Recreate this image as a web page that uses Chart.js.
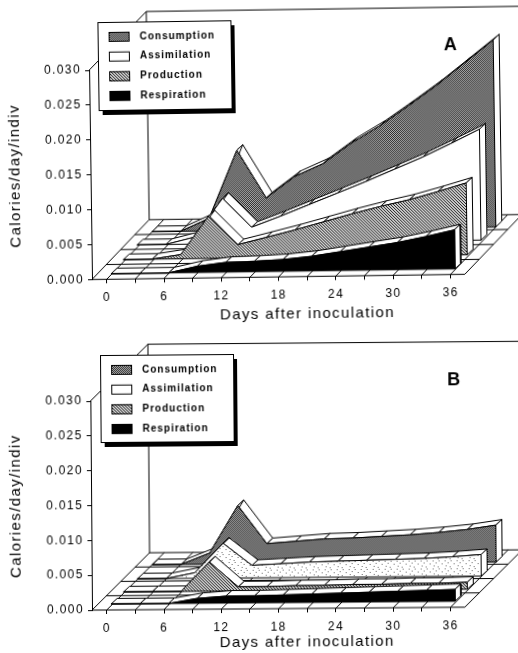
<!DOCTYPE html>
<html>
<head>
<meta charset="utf-8">
<script src="https://cdn.jsdelivr.net/npm/chart.js@4"></script>
<style>
  html, body { margin: 0; background: #fff; }
  #page { position: relative; width: 518px; height: 653px; overflow: hidden; }
  canvas { position: absolute; left: 0; }
  #panelA { top: 0; transform: rotate(-0.8deg); transform-origin: 107px 279px; }
  #panelB { top: 330px; transform: rotate(-0.45deg); transform-origin: 107px 280px; }
</style>
</head>
<body>
<div id="page">
  <canvas id="panelA" width="530" height="330"></canvas>
  <canvas id="panelB" width="530" height="323"></canvas>
</div>
<script>
const days = [0, 3, 6, 9, 12, 15, 18, 21, 24, 27, 30, 33, 36];
const xTicks = [0, 3, 6, 9, 12, 15, 18, 21, 24, 27, 30, 33, 36];
const seriesNames = ["Consumption", "Assimilation", "Production", "Respiration"];

const consumptionA = [0, 0, 0.0018, 0.0115, 0.0046, 0.0076, 0.0094, 0.0123, 0.0147, 0.0175, 0.0204, 0.0236, 0.0268];
const assimilationA = [0, 0, 0.0010, 0.0065, 0.0023, 0.0038, 0.0054, 0.0070, 0.0086, 0.0103, 0.0120, 0.0139, 0.0159];
const productionA = [0, 0, 0.0006, 0.0061, 0.0019, 0.0029, 0.0039, 0.0050, 0.0061, 0.0071, 0.0080, 0.0091, 0.0103];
const respirationA = [0, 0, 0, 0.0009, 0.0014, 0.0015, 0.0017, 0.0021, 0.0027, 0.0033, 0.0039, 0.0047, 0.0056];

const consumptionB = [0, 0, 0.0016, 0.0084, 0.0029, 0.0032, 0.0035, 0.0036, 0.0038, 0.0040, 0.0043, 0.0047, 0.0053];
const assimilationB = [0, 0, 0.0008, 0.0050, 0.0018, 0.0020, 0.0022, 0.0023, 0.0024, 0.0025, 0.0026, 0.0028, 0.0031];
const productionB = [0, 0, 0, 0.0042, 0.0006, 0.0006, 0.0007, 0.0007, 0.0008, 0.0008, 0.0009, 0.0009, 0.0010];
const respirationB = [0, 0, 0, 0.0007, 0.0010, 0.0010, 0.0011, 0.0012, 0.0013, 0.0014, 0.0015, 0.0016, 0.0017];

// px -> data units for the fake 3D offsets
const dayPerPx = 1 / 9.55;
const valPerPx = 0.03 / 209.3;
const ink = "#000";

function makePattern(rows, dark, light) {
    const c = document.createElement("canvas");
    c.width = rows[0].length;
    c.height = rows.length;
    const g = c.getContext("2d");
    g.fillStyle = light;
    g.fillRect(0, 0, c.width, c.height);
    g.fillStyle = dark;
    rows.forEach((row, y) => {
        for (let x = 0; x < row.length; x++) {
            if (row[x] === "#") g.fillRect(x, y, 1, 1);
        }
    });
    return g.createPattern(c, "repeat");
}

const fillConsumption = makePattern(["#.", ".#"], "#2a2a2a", "#b4b4b4");
const fillProduction = makePattern(["#..", ".#.", "..#"], "#222", "#d0d0d0");
const fillStipple = makePattern([
    "............", ".#.....#....", "............", "....#.......",
    "..........#.", "............", "..#.........", "......#....."
], "#666", "#fff");

function poly(points, fill) {
    return {
        data: points.concat([points[0]]),
        fill: "shape",
        backgroundColor: fill,
        borderColor: ink,
        borderWidth: 1,
        pointRadius: 0,
        tension: 0,
        clip: false
    };
}

function stroke(points, width) {
    return {
        data: points,
        fill: false,
        borderColor: ink,
        borderWidth: width || 1,
        pointRadius: 0,
        tension: 0,
        clip: false
    };
}

// one series: front face, end face, and the top strip cut into one piece per interval
function seriesSets(values, dx, dy, frontFill) {
    const sx = dx * dayPerPx, sy = dy * valPerPx;
    const rx = 6 * dayPerPx, ry = 5.5 * valPerPx;
    const top = days.map((d, i) => ({ x: d + sx, y: values[i] + sy }));
    const last = top[top.length - 1];
    const base = { x: last.x, y: sy };
    const sets = [];
    sets.push(poly(top.concat([base, { x: top[0].x, y: sy }]), frontFill));
    sets.push(poly([last, { x: last.x + rx, y: last.y + ry }, { x: base.x + rx, y: base.y + ry }, base], "#fff"));
    for (let i = 0; i < top.length - 1; i++) {
        const a = top[i], b = top[i + 1];
        sets.push(poly([a, b, { x: b.x + rx, y: b.y + ry }, { x: a.x + rx, y: a.y + ry }], "#fff"));
    }
    return sets;
}

function floorSets(cfg) {
    const sets = [];
    const backX = cfg.floorX * dayPerPx, backY = cfg.floorY * valPerPx;
    const left = cfg.xMin, right = 37.5;
    for (let k = 0; k <= 4; k++) {
        const f = k / 4;
        sets.push(stroke([{ x: left + backX * f, y: backY * f }, { x: right + backX * f, y: backY * f }]));
    }
    [left].concat(xTicks, [right]).forEach(d => {
        sets.push(stroke([{ x: d, y: 0 }, { x: d + backX, y: backY }]));
    });
    // back wall
    const wallX = left + backX;
    sets.push(stroke([{ x: left, y: 0.03 }, { x: wallX, y: cfg.wallTop }, { x: cfg.xMax + 1, y: cfg.wallTop }]));
    sets.push(stroke([{ x: wallX, y: backY }, { x: wallX, y: cfg.wallTop }]));
    return sets;
}

const panelDecor = {
    id: "panelDecor",
    beforeDraw(chart) {
        chart.ctx.letterSpacing = "1.4px";
    },
    beforeDatasetsDraw(chart) {
        // the filler clips to chartArea, the 3D shapes go past it
        chart.$realArea = chart.chartArea;
        chart.chartArea = { left: 0, top: 0, right: chart.width, bottom: chart.height,
                            width: chart.width, height: chart.height };
    },
    afterDatasetsDraw(chart) {
        chart.chartArea = chart.$realArea;
        const cfg = chart.options.plugins.panelDecor;
        const ctx = chart.ctx;
        const box = cfg.box;
        ctx.save();
        ctx.fillStyle = "#000";
        ctx.fillRect(box.x + 4, box.y + 5, box.w, box.h);
        ctx.fillStyle = "#fff";
        ctx.strokeStyle = ink;
        ctx.lineWidth = 1;
        ctx.fillRect(box.x, box.y, box.w, box.h);
        ctx.strokeRect(box.x + 0.5, box.y + 0.5, box.w, box.h);
        const fills = [fillConsumption, "#fff", fillProduction, "#000"];
        ctx.letterSpacing = "1px";
        seriesNames.forEach((name, i) => {
            const y = box.y + 15 + i * 19.7;
            ctx.fillStyle = fills[i];
            ctx.fillRect(box.x + 11, y - 5, 21, 10);
            ctx.strokeRect(box.x + 11.5, y - 4.5, 20, 9);
            ctx.fillStyle = ink;
            ctx.font = "bold 10px 'Liberation Sans'";
            ctx.textBaseline = "middle";
            ctx.textAlign = "left";
            ctx.fillText(name, box.x + 42, y);
        });
        ctx.letterSpacing = "0px";
        ctx.font = "bold 18px 'Liberation Sans'";
        ctx.textAlign = "left";
        ctx.textBaseline = "alphabetic";
        ctx.fillStyle = ink;
        ctx.fillText(cfg.letter, cfg.letterX, cfg.letterY);
        ctx.restore();
    }
};

function drawPanel(id, cfg, groups) {
    const datasets = [];
    // first dataset is painted last, so go front to back
    groups.forEach(g => datasets.push(...seriesSets(g.values, g.dx, g.dy, g.fill)));
    datasets.push(...floorSets(cfg));

    new Chart(document.getElementById(id), {
        type: "line",
        data: { datasets: datasets },
        plugins: [panelDecor],
        options: {
            responsive: false,
            animation: false,
            layout: { padding: { left: 0, right: 8, top: cfg.top, bottom: 0 } },
            plugins: {
                legend: { display: false },
                tooltip: { enabled: false },
                panelDecor: cfg
            },
            scales: {
                x: {
                    type: "linear",
                    min: cfg.xMin,
                    max: cfg.xMax,
                    afterBuildTicks(axis) { axis.ticks = xTicks.map(v => ({ value: v })); },
                    afterFit(axis) { axis.height = cfg.bottom; },
                    border: { display: false },
                    grid: { drawOnChartArea: false, tickLength: 4, tickColor: ink },
                    ticks: {
                        autoSkip: false,
                        maxRotation: 0,
                        padding: 7,
                        color: ink,
                        font: { family: "'Liberation Sans'", size: 12 },
                        callback: v => (v % 6 === 0 ? String(v) : "")
                    },
                    title: {
                        display: true,
                        text: "Days after inoculation",
                        color: ink,
                        font: { family: "'Liberation Sans'", size: 15 },
                        padding: { top: 0, bottom: cfg.titlePad }
                    }
                },
                y: {
                    min: 0,
                    max: 0.03,
                    afterFit(axis) { axis.width = 92; },
                    border: { display: true, color: ink, width: 1 },
                    grid: { drawOnChartArea: false, tickLength: 4, tickColor: ink },
                    ticks: {
                        stepSize: 0.005,
                        padding: 4,
                        color: ink,
                        font: { family: "'Liberation Sans'", size: 12 },
                        callback: v => v.toFixed(3)
                    },
                    title: {
                        display: true,
                        text: "Calories/day/indiv",
                        color: ink,
                        font: { family: "'Liberation Sans'", size: 15 },
                        padding: { top: 8, bottom: 0 }
                    }
                }
            }
        }
    });
}

const xMin = (92 - 106.7) * dayPerPx;
const xMax = (522 - 106.7) * dayPerPx;

drawPanel("panelA", {
    top: 70, bottom: 50.7, titlePad: 4, xMin: xMin, xMax: xMax,
    floorX: 58, floorY: 59, wallTop: 0.0383,
    letter: "A", letterX: 447, letterY: 55,
    box: { x: 101, y: 22, w: 133, h: 88 }
}, [
    { values: respirationA, dx: 4.5, dy: 5.5, fill: "#000" },
    { values: productionA, dx: 17, dy: 19.5, fill: fillProduction },
    { values: assimilationA, dx: 31, dy: 34, fill: "#fff" },
    { values: consumptionA, dx: 46, dy: 47, fill: fillConsumption }
]);

drawPanel("panelB", {
    top: 71, bottom: 43, titlePad: 0, xMin: xMin, xMax: xMax,
    floorX: 58, floorY: 57, wallTop: 0.0381,
    letter: "B", letterX: 449, letterY: 58,
    box: { x: 102, y: 25, w: 133, h: 87 }
}, [
    { values: respirationB, dx: 4.5, dy: 6, fill: "#000" },
    { values: productionB, dx: 17, dy: 18, fill: fillProduction },
    { values: assimilationB, dx: 31, dy: 31, fill: fillStipple },
    { values: consumptionB, dx: 46, dy: 45, fill: fillConsumption }
]);
</script>
</body>
</html>
